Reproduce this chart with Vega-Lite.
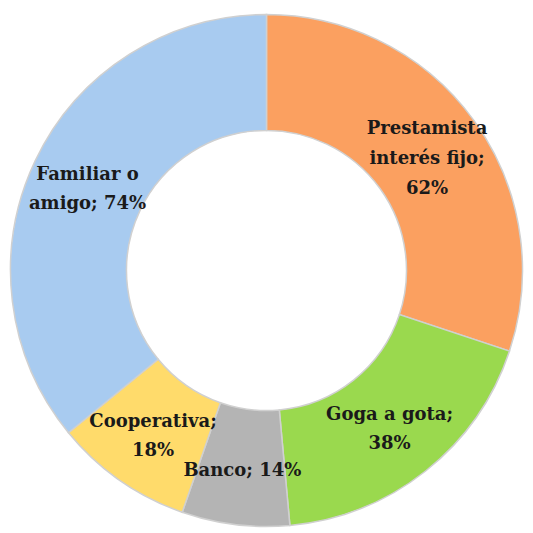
{
  "$schema": "https://vega.github.io/schema/vega-lite/v6.json",
  "width": 533,
  "height": 533,
  "autosize": {"type": "none"},
  "padding": {"left": 0, "top": 4, "right": 0, "bottom": 0},
  "background": "white",
  "view": {"stroke": null},
  "data": {
    "values": [
      {"k": 1, "cat": "Prestamista interés fijo", "v": 62, "label": "Prestamista\ninterés fijo;\n62%"},
      {"k": 2, "cat": "Goga a gota", "v": 38, "label": "Goga a gota;\n38%"},
      {"k": 3, "cat": "Banco", "v": 14, "label": "Banco; 14%"},
      {"k": 4, "cat": "Cooperativa", "v": 18, "label": "Cooperativa;\n18%"},
      {"k": 5, "cat": "Familiar o amigo", "v": 74, "label": "Familiar o\namigo; 74%"}
    ]
  },
  "encoding": {
    "theta": {"field": "v", "type": "quantitative", "stack": true},
    "order": {"field": "k", "type": "quantitative"}
  },
  "layer": [
    {
      "mark": {"type": "arc", "innerRadius": 140, "outerRadius": 256, "stroke": "#d0d0d0", "strokeWidth": 1.5},
      "encoding": {
        "color": {
          "field": "cat",
          "type": "nominal",
          "scale": {
            "domain": ["Prestamista interés fijo", "Goga a gota", "Banco", "Cooperativa", "Familiar o amigo"],
            "range": ["#FBA060", "#9AD94E", "#B4B4B4", "#FFDB6B", "#A8CBF0"]
          },
          "legend": null
        }
      }
    },
    {
      "mark": {"type": "text", "radius": 198, "dy": -26, "font": "DejaVu Serif", "fontWeight": "bold", "fontSize": 18, "lineHeight": 30, "lineBreak": "\n", "align": "center", "baseline": "middle", "color": "#1a1a1a"},
      "encoding": {
        "text": {"condition": {"test": "length(split(datum.label, '\\n')) == 3", "field": "label"}, "value": ""}
      }
    },
    {
      "mark": {"type": "text", "radius": 198, "dy": -11, "font": "DejaVu Serif", "fontWeight": "bold", "fontSize": 18, "lineHeight": 29, "lineBreak": "\n", "align": "center", "baseline": "middle", "color": "#1a1a1a"},
      "encoding": {
        "text": {"condition": {"test": "length(split(datum.label, '\\n')) == 2", "field": "label"}, "value": ""}
      }
    },
    {
      "mark": {"type": "text", "radius": 198, "dy": 4, "font": "DejaVu Serif", "fontWeight": "bold", "fontSize": 18, "lineHeight": 30, "lineBreak": "\n", "align": "center", "baseline": "middle", "color": "#1a1a1a"},
      "encoding": {
        "text": {"condition": {"test": "length(split(datum.label, '\\n')) == 1", "field": "label"}, "value": ""}
      }
    }
  ]
}
